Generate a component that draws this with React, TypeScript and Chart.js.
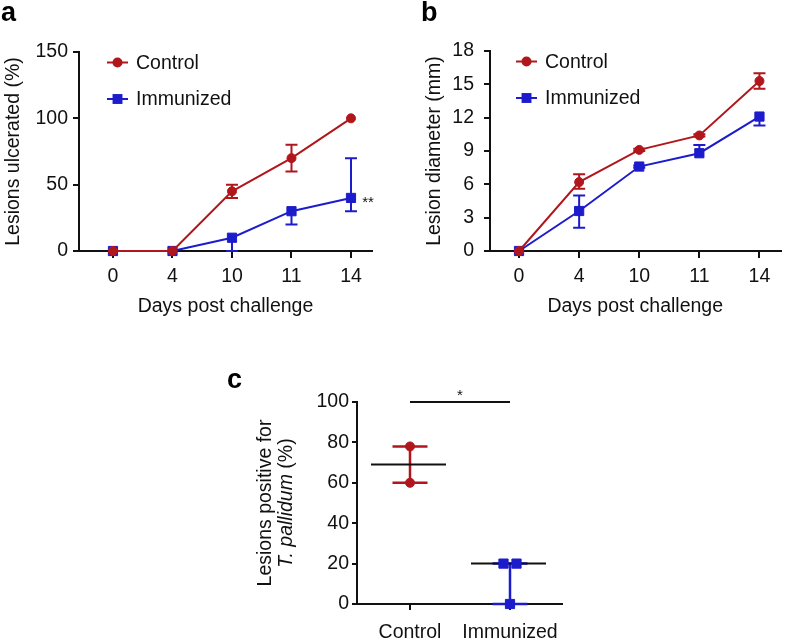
import { useEffect, useRef } from "react";
import { Chart, registerables } from "chart.js";
Chart.register(...registerables);

const FONT = "'Liberation Sans', Arial, Helvetica, sans-serif";
const RED = "#B0161C";
const BLUE = "#1C1CCC";
const BLACK = "#111";

// ---- shared
const days = ["0", "4", "10", "11", "14"];
const seriesNames = ["Control", "Immunized"];
const xTitle = "Days post challenge";

// ---- panel a
const ulcerControl = [0, 0, 45, 70, 100];
const ulcerControlLow = [0, 0, 40, 60, 100];
const ulcerControlHigh = [0, 0, 50, 80, 100];
const ulcerImmunized = [0, 0, 10, 30, 40];
const ulcerImmunizedLow = [0, 0, 0, 20, 30];
const ulcerImmunizedHigh = [0, 0, 10, 30, 70];
const ulcerTicks = [0, 50, 100, 150];
const ulcerTitle = "Lesions ulcerated (%)";
const ulcerSigMark = "**";

// ---- panel b
const diamControl = [0, 6.2, 9.1, 10.4, 15.3];
const diamControlLow = [0, 5.6, 9.0, 10.3, 14.6];
const diamControlHigh = [0, 6.9, 9.2, 10.5, 16.0];
const diamImmunized = [0, 3.6, 7.6, 8.8, 12.1];
const diamImmunizedLow = [0, 2.1, 7.5, 8.8, 11.3];
const diamImmunizedHigh = [0, 5.0, 7.7, 9.55, 12.1];
const diamTicks = [0, 3, 6, 9, 12, 15, 18];
const diamTitle = "Lesion diameter (mm)";

// ---- panel c
const groups = ["Control", "Immunized"];
const positiveControl = [78, 60];
const positiveImmunized = [20, 20, 0];
const positiveTicks = [0, 20, 40, 60, 80, 100];
const positiveTitle1 = "Lesions positive for";
const positiveTitleItalic = "T. pallidum";
const positiveTitleRest = " (%)";
const sigLevel = 100;
const sigMark = "*";

const TICK_SIZE = 19.5;
const TITLE_SIZE = 19.5;

function xy(values: number[]) {
  return values.map((v, i) => ({ x: i, y: v }));
}

function spread(values: number[], group: number) {
  return values.map((v, i) => {
    const same = values.map((w, k) => [w, k]).filter(([w]) => w === v);
    const n = same.length;
    const rank = same.findIndex(([, k]) => k === i);
    return { x: group + (rank - (n - 1) / 2) * 0.13, y: v };
  });
}

function median(values: number[]) {
  const s = [...values].sort((a, b) => a - b);
  const m = Math.floor(s.length / 2);
  return s.length % 2 ? s[m] : (s[m - 1] + s[m]) / 2;
}

function drawMarker(ctx: CanvasRenderingContext2D, style: string, x: number, y: number, r: number, color: string) {
  ctx.save();
  ctx.fillStyle = color;
  ctx.beginPath();
  if (style === "rect") {
    const s = r * Math.SQRT1_2;
    ctx.rect(x - s, y - s, 2 * s, 2 * s);
  } else {
    ctx.arc(x, y, r, 0, Math.PI * 2);
  }
  ctx.fill();
  ctx.restore();
}

const errorBars = {
  id: "errorBars",
  beforeDatasetsDraw(chart: any) {
    const ctx = chart.ctx;
    const ys = chart.scales.y;
    chart.data.datasets.forEach((ds: any, i: number) => {
      if (!ds.errLow) return;
      const meta = chart.getDatasetMeta(i);
      ctx.save();
      ctx.strokeStyle = ds.borderColor;
      ctx.lineWidth = 2;
      meta.data.forEach((pt: any, j: number) => {
        const v = ds.data[j].y;
        const lo = ds.errLow[j];
        const hi = ds.errHigh[j];
        if (lo === v && hi === v) return;
        const yl = ys.getPixelForValue(lo);
        const yh = ys.getPixelForValue(hi);
        ctx.beginPath();
        ctx.moveTo(pt.x, yl);
        ctx.lineTo(pt.x, yh);
        if (lo < v) {
          ctx.moveTo(pt.x - 6, yl);
          ctx.lineTo(pt.x + 6, yl);
        }
        if (hi > v) {
          ctx.moveTo(pt.x - 6, yh);
          ctx.lineTo(pt.x + 6, yh);
        }
        ctx.stroke();
      });
      ctx.restore();
    });
  },
};

const seriesLegend = {
  id: "seriesLegend",
  afterDraw(chart: any, _a: any, opts: any) {
    const { ctx, chartArea } = chart;
    chart.data.datasets.forEach((ds: any, i: number) => {
      const x0 = chartArea.left + opts.dx;
      const y = chartArea.top + opts.dy + i * opts.gap;
      ctx.save();
      ctx.strokeStyle = ds.borderColor;
      ctx.lineWidth = 2;
      ctx.beginPath();
      ctx.moveTo(x0, y);
      ctx.lineTo(x0 + 21, y);
      ctx.stroke();
      drawMarker(ctx, ds.pointStyle, x0 + 10.5, y, ds.pointRadius + 0.5, ds.borderColor);
      ctx.fillStyle = BLACK;
      ctx.font = `${TITLE_SIZE}px ${FONT}`;
      ctx.textAlign = "left";
      ctx.textBaseline = "middle";
      ctx.fillText(ds.label, x0 + 29, y + 1);
      ctx.restore();
    });
  },
};

const panelLetter = {
  id: "panelLetter",
  afterDraw(chart: any, _a: any, opts: any) {
    const ctx = chart.ctx;
    ctx.save();
    ctx.fillStyle = "#000";
    ctx.font = `bold 27px ${FONT}`;
    ctx.textAlign = "left";
    ctx.textBaseline = "alphabetic";
    ctx.fillText(opts.text, opts.x, opts.y);
    ctx.restore();
  },
};

const pointMark = {
  id: "pointMark",
  afterDatasetsDraw(chart: any, _a: any, opts: any) {
    if (!opts.text) return;
    const meta = chart.getDatasetMeta(opts.dataset);
    const pt = meta.data[meta.data.length - 1];
    const ctx = chart.ctx;
    ctx.save();
    ctx.fillStyle = BLACK;
    ctx.font = `15px ${FONT}`;
    ctx.textAlign = "center";
    ctx.textBaseline = "alphabetic";
    ctx.fillText(opts.text, pt.x + 17, pt.y + 9);
    ctx.restore();
  },
};

const rangeMedian = {
  id: "rangeMedian",
  beforeDatasetsDraw(chart: any) {
    const ctx = chart.ctx;
    const xs = chart.scales.x;
    const ys = chart.scales.y;
    const unit = xs.getPixelForValue(1) - xs.getPixelForValue(0);
    chart.data.datasets.forEach((ds: any) => {
      const vals = ds.data.map((p: any) => p.y);
      const g = ds.group;
      const cx = xs.getPixelForValue(g);
      const yMin = ys.getPixelForValue(Math.min(...vals));
      const yMax = ys.getPixelForValue(Math.max(...vals));
      const yMed = ys.getPixelForValue(median(vals));
      ctx.save();
      ctx.strokeStyle = ds.borderColor;
      ctx.lineWidth = 2.5;
      ctx.beginPath();
      ctx.moveTo(cx, yMin);
      ctx.lineTo(cx, yMax);
      ctx.moveTo(cx - 0.175 * unit, yMin);
      ctx.lineTo(cx + 0.175 * unit, yMin);
      ctx.moveTo(cx - 0.175 * unit, yMax);
      ctx.lineTo(cx + 0.175 * unit, yMax);
      ctx.stroke();
      ctx.strokeStyle = BLACK;
      ctx.lineWidth = 2;
      ctx.beginPath();
      ctx.moveTo(cx - 0.39 * unit, yMed);
      ctx.lineTo(cx + 0.36 * unit, yMed);
      ctx.stroke();
      ctx.restore();
    });
  },
  afterDraw(chart: any) {
    const ctx = chart.ctx;
    const xs = chart.scales.x;
    const ys = chart.scales.y;
    const ca = chart.chartArea;
    const y = ys.getPixelForValue(sigLevel);
    const x0 = xs.getPixelForValue(0);
    const x1 = xs.getPixelForValue(1);
    ctx.save();
    ctx.strokeStyle = BLACK;
    ctx.lineWidth = 2;
    ctx.beginPath();
    ctx.moveTo(x0, y);
    ctx.lineTo(x1, y);
    ctx.stroke();
    ctx.fillStyle = BLACK;
    ctx.font = `15px ${FONT}`;
    ctx.textAlign = "center";
    ctx.textBaseline = "alphabetic";
    ctx.fillText(sigMark, (x0 + x1) / 2, y - 2);
    // y-axis title (two lines, italic species name)
    const cy = (ca.top + ca.bottom) / 2;
    ctx.translate(ca.left - 91, cy);
    ctx.rotate(-Math.PI / 2);
    ctx.textBaseline = "middle";
    ctx.textAlign = "center";
    ctx.font = `${TITLE_SIZE}px ${FONT}`;
    ctx.fillText(positiveTitle1, 0, 0);
    ctx.font = `italic ${TITLE_SIZE}px ${FONT}`;
    const wI = ctx.measureText(positiveTitleItalic).width;
    ctx.font = `${TITLE_SIZE}px ${FONT}`;
    const wR = ctx.measureText(positiveTitleRest).width;
    const start = -(wI + wR) / 2;
    ctx.textAlign = "left";
    ctx.font = `italic ${TITLE_SIZE}px ${FONT}`;
    ctx.fillText(positiveTitleItalic, start, 21);
    ctx.font = `${TITLE_SIZE}px ${FONT}`;
    ctx.fillText(positiveTitleRest, start + wI, 21);
    ctx.restore();
  },
};

function axisCommon(tickLength: number, padding: number) {
  return {
    ticks: {
      font: { family: FONT, size: TICK_SIZE },
      color: BLACK,
      padding,
      maxRotation: 0,
      autoSkip: false,
    },
    grid: {
      display: true,
      drawOnChartArea: false,
      drawTicks: true,
      tickLength,
      tickWidth: 2,
      tickColor: BLACK,
      color: BLACK,
      lineWidth: 2,
    },
    border: { display: true, color: BLACK, width: 2 },
  };
}

function lineConfig(p: any) {
  const xc = axisCommon(7, 7);
  const yc = axisCommon(6, p.yPad);
  return {
    type: "line",
    data: {
      datasets: [
        {
          label: seriesNames[0],
          data: xy(p.c),
          errLow: p.cLo,
          errHigh: p.cHi,
          borderColor: RED,
          backgroundColor: RED,
          pointBackgroundColor: RED,
          pointBorderColor: RED,
          pointStyle: "circle",
          pointRadius: 4.5,
          pointBorderWidth: 1,
          borderWidth: 2,
          tension: 0,
          clip: false,
        },
        {
          label: seriesNames[1],
          data: xy(p.i),
          errLow: p.iLo,
          errHigh: p.iHi,
          borderColor: BLUE,
          backgroundColor: BLUE,
          pointBackgroundColor: BLUE,
          pointBorderColor: BLUE,
          pointStyle: "rect",
          pointRadius: 6.5,
          pointBorderWidth: 1,
          borderWidth: 2,
          tension: 0,
          clip: false,
        },
      ],
    },
    options: {
      responsive: false,
      animation: false,
      events: [],
      layout: { padding: { left: 0, top: p.top, right: p.right, bottom: 0 } },
      plugins: {
        legend: { display: false },
        tooltip: { enabled: false },
        seriesLegend: { dx: p.legDx, dy: 10.5, gap: 36.5 },
        panelLetter: { text: p.letter, x: p.letterX, y: 21 },
        pointMark: { text: p.mark, dataset: 1 },
      },
      scales: {
        x: {
          type: "linear",
          min: p.xMin,
          max: p.xMax,
          afterBuildTicks: (s: any) => {
            s.ticks = days.map((_, k) => ({ value: k }));
          },
          afterFit: (s: any) => {
            s.height = 79;
          },
          ...xc,
          ticks: { ...xc.ticks, callback: (v: number) => days[v] },
          title: {
            display: true,
            text: xTitle,
            color: BLACK,
            font: { family: FONT, size: TITLE_SIZE },
            padding: { top: 0, bottom: 11.3 },
          },
        },
        y: {
          type: "linear",
          min: p.ticks[0],
          max: p.ticks[p.ticks.length - 1],
          afterBuildTicks: (s: any) => {
            s.ticks = p.ticks.map((v: number) => ({ value: v }));
          },
          afterFit: (s: any) => {
            s.width = p.left;
          },
          ...yc,
          title: {
            display: true,
            text: p.title,
            color: BLACK,
            font: { family: FONT, size: TITLE_SIZE },
            padding: { top: p.titlePad, bottom: 0 },
          },
        },
      },
    },
    plugins: [errorBars, seriesLegend, panelLetter, pointMark],
  };
}

function scatterConfig() {
  const xc = axisCommon(6, 11);
  const yc = axisCommon(5, 3);
  return {
    type: "scatter",
    data: {
      datasets: [
        {
          label: groups[0],
          group: 0,
          data: spread(positiveControl, 0),
          borderColor: RED,
          backgroundColor: RED,
          pointStyle: "circle",
          pointRadius: 4.5,
          pointBorderWidth: 1,
          clip: false,
        },
        {
          label: groups[1],
          group: 1,
          data: spread(positiveImmunized, 1),
          borderColor: BLUE,
          backgroundColor: BLUE,
          pointStyle: "rect",
          pointRadius: 6.5,
          pointBorderWidth: 1,
          clip: false,
        },
      ],
    },
    options: {
      responsive: false,
      animation: false,
      events: [],
      layout: { padding: { left: 0, top: 72, right: 18, bottom: 0 } },
      plugins: {
        legend: { display: false },
        tooltip: { enabled: false },
        panelLetter: { text: "c", x: 27, y: 58 },
      },
      scales: {
        x: {
          type: "linear",
          min: -0.53,
          max: 1.52,
          afterBuildTicks: (s: any) => {
            s.ticks = groups.map((_, k) => ({ value: k }));
          },
          afterFit: (s: any) => {
            s.height = 36;
          },
          ...xc,
          ticks: { ...xc.ticks, callback: (v: number) => groups[v] },
        },
        y: {
          type: "linear",
          min: positiveTicks[0],
          max: positiveTicks[positiveTicks.length - 1],
          afterBuildTicks: (s: any) => {
            s.ticks = positiveTicks.map((v) => ({ value: v }));
          },
          afterFit: (s: any) => {
            s.width = 157;
          },
          ...yc,
        },
      },
    },
    plugins: [rangeMedian, panelLetter],
  };
}

function ChartBox(props: { make: () => any; left: number; top: number; width: number; height: number }) {
  const ref = useRef<HTMLCanvasElement | null>(null);
  useEffect(() => {
    const chart = new Chart(ref.current as HTMLCanvasElement, props.make());
    return () => chart.destroy();
  }, []);
  return (
    <canvas
      ref={ref}
      width={props.width}
      height={props.height}
      style={{ position: "absolute", left: props.left, top: props.top, width: props.width, height: props.height }}
    />
  );
}

export default function App() {
  const makeA = () =>
    lineConfig({
      c: ulcerControl, cLo: ulcerControlLow, cHi: ulcerControlHigh,
      i: ulcerImmunized, iLo: ulcerImmunizedLow, iHi: ulcerImmunizedHigh,
      ticks: ulcerTicks, title: ulcerTitle, mark: ulcerSigMark,
      top: 52, right: 22, left: 79, yPad: 5, titlePad: 2.3,
      xMin: -0.571, xMax: 4.353, legDx: 28, letter: "a", letterX: 1,
    });
  const makeB = () =>
    lineConfig({
      c: diamControl, cLo: diamControlLow, cHi: diamControlHigh,
      i: diamImmunized, iLo: diamImmunizedLow, iHi: diamImmunizedHigh,
      ticks: diamTicks, title: diamTitle, mark: "",
      top: 51, right: 7, left: 96, yPad: 10, titlePad: 29.3,
      xMin: -0.483, xMax: 4.35, legDx: 26, letter: "b", letterX: 27,
    });
  return (
    <div style={{ position: "absolute", left: 0, top: 0, width: 788, height: 640, background: "#fff" }}>
      <ChartBox make={makeA} left={0} top={0} width={394} height={330} />
      <ChartBox make={makeB} left={394} top={0} width={394} height={330} />
      <ChartBox make={scatterConfig} left={200} top={330} width={380} height={310} />
    </div>
  );
}
